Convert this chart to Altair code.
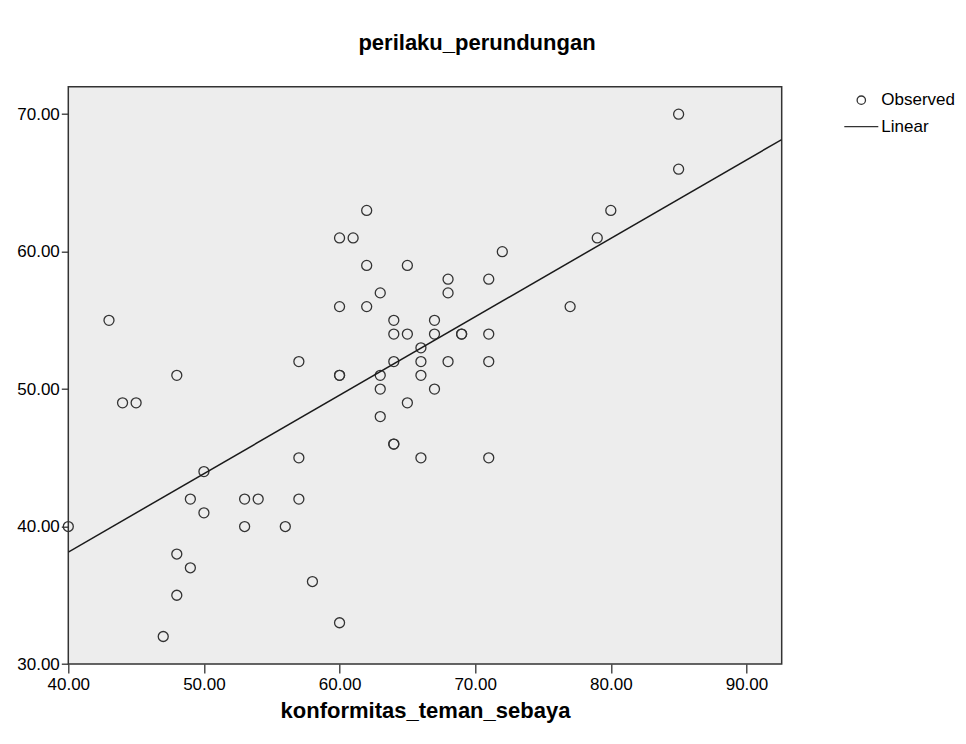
import altair as alt
import pandas as pd

# Data
konformitas = [40, 43, 44, 45, 47, 48, 48, 48, 49, 49,
               50, 50, 53, 53, 54, 56, 57, 57, 57, 58,
               60, 60, 61, 62, 62, 65, 60, 62, 63, 60,
               60, 63, 63, 63, 64, 64, 65, 64, 64, 64,
               65, 66, 66, 66, 66, 67, 67, 67, 68, 68,
               68, 69, 69, 71, 71, 71, 71, 72, 77, 79,
               80, 85, 85]
perundungan = [40, 55, 49, 49, 32, 51, 38, 35, 42, 37,
               44, 41, 42, 40, 42, 40, 52, 45, 42, 36,
               33, 61, 61, 63, 59, 59, 56, 56, 57, 51,
               51, 51, 50, 48, 55, 54, 54, 52, 46, 46,
               49, 53, 52, 51, 45, 55, 54, 50, 58, 57,
               52, 54, 54, 58, 54, 52, 45, 60, 56, 61,
               63, 70, 66]
series_names = ["Observed", "Linear"]
x_ticks = [40, 50, 60, 70, 80, 90]
y_ticks = [30, 40, 50, 60, 70]
x_domain = [40, 92.6]
y_domain = [30, 72]

df = pd.DataFrame({"konformitas_teman_sebaya": konformitas,
                   "perilaku_perundungan": perundungan})
legend_df = pd.DataFrame({"series": series_names})

FONT = "Liberation Sans"

xs = alt.X("konformitas_teman_sebaya:Q",
           scale=alt.Scale(domain=x_domain, nice=False, zero=False),
           axis=alt.Axis(values=x_ticks, format=".2f", title="konformitas_teman_sebaya",
                         labelFlush=False, tickSize=9, labelPadding=3, titlePadding=8))
ys = alt.Y("perilaku_perundungan:Q",
           scale=alt.Scale(domain=y_domain, nice=False, zero=False),
           axis=alt.Axis(values=y_ticks, format=".2f", title=None, labelFlush=False,
                         tickSize=7, labelPadding=2))

points = alt.Chart(df).mark_point(shape="circle", filled=False, size=100, color="#333",
                                  strokeWidth=1.3, opacity=1).encode(x=xs, y=ys)

line = alt.Chart(df).transform_regression(
    "konformitas_teman_sebaya", "perilaku_perundungan", extent=x_domain
).mark_line(color="#1a1a1a", strokeWidth=1.5, clip=True).encode(x=xs, y=ys)

leg = alt.Legend(title=None, orient="none", legendX=775, legendY=5,
                 symbolOpacity=1, symbolStrokeColor="#333", symbolFillColor="transparent",
                 symbolStrokeWidth=1.3, labelFont=FONT, labelFontSize=17, labelColor="#000",
                 rowPadding=-7, labelOffset=2, padding=0)

legend_layer = alt.Chart(legend_df).mark_point(opacity=0, color="#333", filled=False,
                                               strokeWidth=1.3).encode(
    shape=alt.Shape("series:N", scale=alt.Scale(domain=series_names, range=["circle", "stroke"]),
                    legend=leg),
    size=alt.Size("series:N", scale=alt.Scale(domain=series_names, range=[70, 1156]),
                  legend=leg),
)

chart = alt.layer(points, line, legend_layer).properties(
    width=713.4, height=577.3,
    autosize=alt.AutoSizeParams(type="none"),
    padding={"left": 60.3, "top": 78.7, "right": 176.3, "bottom": 72},
    view=alt.ViewBackground(fill="#EDEDED", stroke="#333", strokeWidth=1.5),
    title=alt.TitleParams("perilaku_perundungan", font=FONT, fontSize=22, fontWeight="bold",
                          color="#000", anchor="middle", dx=52, offset=32),
).configure_view(
    fill="#EDEDED", stroke="#333", strokeWidth=1.5
).configure_axis(
    grid=False, domain=False, tickColor="#333", tickWidth=1.3,
    labelFont=FONT, labelFontSize=17, labelColor="#000",
    titleFont=FONT, titleFontSize=22, titleFontWeight="bold", titleColor="#000"
)

chart.save("out.html", embed_options={"renderer": "svg", "actions": False})
